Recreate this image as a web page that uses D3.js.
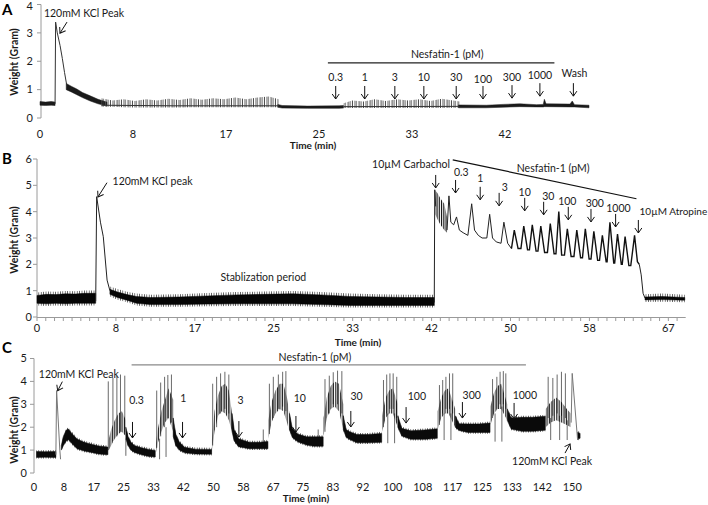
<!DOCTYPE html>
<html><head><meta charset="utf-8">
<script src="https://cdn.jsdelivr.net/npm/d3@7"></script>
<style>body{margin:0;background:#fff}svg{display:block}text{font-family:Lato,"Open Sans",sans-serif;fill:#1a1a1a}</style>
</head><body><svg id="c" width="708" height="505"></svg>
<script>
// x tick labels are placed every 500 s (8.333 min)
const labelStep = 25 / 3;

// ---------- Panel A ----------
const aTickLabels = ["0","8","17","25","33","42"];
const aYTicks = [0,1,2,3,4];
// [time, low, high] envelopes of the recorded trace
const aSolid = [
  [[0,0.45,0.58],[0.5,0.44,0.56],[1.0,0.45,0.58],[1.35,0.44,0.56]],
  [[2.35,1.0,1.22],[2.8,0.92,1.12],[3.3,0.82,1.02],[3.8,0.72,0.9],[4.5,0.6,0.78],[5.2,0.5,0.66],[6,0.42,0.56]],
  [[21.3,0.38,0.48],[21.7,0.35,0.44],[24,0.34,0.42],[26.8,0.34,0.43],[27.2,0.35,0.44]],
  [[37.5,0.36,0.46],[40,0.36,0.45],[41.5,0.38,0.48],[43,0.4,0.5],[44.5,0.39,0.47],[45.1,0.39,0.48],[45.2,0.4,0.66],[45.35,0.4,0.5],[47.5,0.39,0.49],[47.7,0.39,0.6],[47.9,0.39,0.47],[49.2,0.36,0.45]]
];
const aNoisy = [
  [[5.5,0.4,0.7],[6.5,0.4,0.62],[7.5,0.38,0.66],[8.5,0.37,0.6],[9.5,0.37,0.66],[10.5,0.37,0.62],[11.5,0.37,0.68],[12.5,0.37,0.63],[13.5,0.38,0.7],[14.5,0.38,0.64],[15.5,0.38,0.7],[16.5,0.38,0.66],[17.5,0.38,0.72],[18.5,0.38,0.66],[19.5,0.38,0.72],[20.5,0.38,0.76],[21.4,0.38,0.66]],
  [[27.2,0.35,0.52],[28,0.35,0.62],[29,0.35,0.58],[30,0.35,0.66],[31,0.35,0.6],[32,0.35,0.66],[33,0.35,0.62],[34,0.35,0.66],[35,0.35,0.6],[36,0.35,0.68],[37.6,0.36,0.58]]
];
const aLines = [
  [[1.35,0.5],[1.4,3.38],[1.55,3.0],[1.8,2.55],[2.0,2.1],[2.2,1.6],[2.4,1.15]],
  [[5.5,0.45],[12,0.43],[21.4,0.43]],
  [[27.2,0.4],[37.6,0.41]]
];
const aThick = [];
const aSpikes = [];
const aArrows = [
  {label:"0.3",t:26.5,tip:0.67,lt:26.5,lv:1.44},
  {label:"1",t:29.1,tip:0.67,lt:29.1,lv:1.44},
  {label:"3",t:31.8,tip:0.67,lt:31.8,lv:1.44},
  {label:"10",t:34.4,tip:0.67,lt:34.4,lv:1.42},
  {label:"30",t:37.3,tip:0.67,lt:37.3,lv:1.42},
  {label:"100",t:39.7,tip:0.67,lt:39.7,lv:1.38},
  {label:"300",t:42.3,tip:0.7,lt:42.3,lv:1.44},
  {label:"1000",t:44.8,tip:0.77,lt:44.8,lv:1.51},
  {label:"Wash",t:47.8,tip:0.77,lt:47.9,lv:1.57}
];
const aNotes = [
  {text:"120mM KCl Peak",t:3.94,v:3.7,from:[2.42,3.38],to:[1.79,2.99]},
  {text:"Nesfatin-1 (pM)",t:36.5,v:2.25}
];
const aBar = [[25.8,1.94],[46.1,1.94]];

// ---------- Panel B ----------
const bTickLabels = ["0","8","17","25","33","42","50","58","67"];
const bYTicks = [0,1,2,3,4,5,6];
const bSolid = [
  [[0,0.52,0.82],[1,0.5,0.86],[2,0.52,0.85],[3,0.5,0.88],[4,0.52,0.87],[5,0.52,0.9],[6.2,0.52,0.9]],
  [[7.7,0.86,1.05],[8.5,0.74,0.95],[9.5,0.64,0.85],[10.5,0.52,0.78],[12,0.47,0.74],[15,0.47,0.76],[18,0.49,0.8],[21,0.5,0.84],[24,0.5,0.86],[27,0.5,0.88],[30,0.47,0.84],[33,0.44,0.78],[36,0.44,0.76],[39,0.44,0.74],[41.95,0.44,0.74]],
  [[64.2,0.65,0.76],[66,0.66,0.78],[68.4,0.64,0.74]]
];
const bNoisy = [
  [[42.05,3.9,4.8],[42.3,3.7,4.7],[42.6,3.5,4.5],[43.0,3.3,4.3],[43.3,3.2,3.8]]
];
const bLines = [
  [[6.2,0.6],[6.3,4.57],[6.7,3.6],[7.0,3.05],[7.4,1.4],[7.7,1.0]],
  [[41.95,0.55],[42.0,4.83],[42.1,4.2]],
  [[43.3,3.3],[43.5,4.6],[43.7,3.6],[44.0,3.5],[44.3,3.8],[44.6,3.3],[45.0,3.2],[45.5,3.1],[45.9,4.3],[46.2,3.3],[46.6,3.1],[47.0,3.0],[47.5,3.0],[47.8,3.9],[48.1,3.0],[48.5,2.85],[49.0,2.8],[49.3,3.6],[49.7,2.8],[50.1,2.6]],
  [[63.6,2.0],[63.8,1.6],[64.0,0.9],[64.2,0.72]]
];
const bThick = [
  [[50.1,2.6],[50.4,3.3],[50.8,2.6],[51.1,2.6],[51.4,3.45],[51.8,2.55],[52.0,2.55],[52.3,3.5],[52.7,2.5],[52.9,2.5],[53.2,3.45],[53.6,2.45],[53.9,2.45],[54.2,3.55],[54.6,2.4],[54.8,2.4],[55.1,4.0],[55.4,2.35],[55.7,2.35],[56.0,3.35],[56.4,2.3],[56.7,2.3],[57.0,3.3],[57.4,2.25],[57.6,2.25],[57.9,3.35],[58.3,2.2],[58.5,2.2],[58.8,3.25],[59.2,2.15],[59.4,2.15],[59.7,3.1],[60.1,2.1],[60.2,2.1],[60.5,3.6],[60.9,2.05],[61.0,2.05],[61.3,3.15],[61.7,2.0],[61.8,2.0],[62.1,3.05],[62.5,1.95],[62.7,1.95],[63.1,3.1],[63.4,2.1],[63.6,2.0]]
];
const bSpikes = [];
const bArrows = [
  {label:"10µM Carbachol",t:42.1,tip:4.9,lt:39.5,lv:5.78},
  {label:"0.3",t:44.2,tip:4.71,lt:44.8,lv:5.48},
  {label:"1",t:46.8,tip:4.45,lt:46.8,lv:5.25},
  {label:"3",t:48.8,tip:4.22,lt:49.4,lv:4.94},
  {label:"10",t:51.5,tip:4.03,lt:51.5,lv:4.75},
  {label:"30",t:53.5,tip:3.88,lt:54.0,lv:4.6},
  {label:"100",t:56.1,tip:3.69,lt:56.0,lv:4.41},
  {label:"300",t:58.5,tip:3.61,lt:58.9,lv:4.33},
  {label:"1000",t:61.1,tip:3.42,lt:61.4,lv:4.14},
  {label:"10µM Atropine",t:63.5,tip:3.19,lt:67.2,lv:3.99}
];
const bNotes = [
  {text:"120mM KCl peak",t:12.2,v:5.17,from:[7.39,5.1],to:[6.44,4.56]},
  {text:"Stablization period",t:23.9,v:1.52},
  {text:"Nesfatin-1 (pM)",t:54.5,v:5.63}
];
const bBar = [[43.9,5.97],[63.3,4.49]];

// ---------- Panel C ----------
const cTickLabels = ["0","8","17","25","33","42","50","58","67","75","83","92","100","108","117","125","133","142","150"];
const cYTicks = [0,1,2,3,4,5];
const cSolid = [
  [[0.7,0.68,0.94],[3,0.69,0.93],[6.1,0.68,0.94]],
  [[7.6,1.0,1.2],[8.2,1.2,1.6],[9.0,1.4,1.88],[9.6,1.45,1.92],[10.5,1.3,1.74],[12,1.06,1.48],[14,0.96,1.34],[16,0.9,1.26],[18,0.83,1.18],[20.6,0.8,1.13]],
  [[25.6,1.5,2.0],[26.2,1.2,1.6],[27,1.0,1.35],[28,0.9,1.2],[30,0.8,1.1],[32,0.72,1.03],[33.8,0.7,0.98]],
  [[38.8,1.6,2.4],[39.5,1.2,1.7],[40.5,1.0,1.35],[42,0.88,1.12],[45,0.83,1.04],[49.5,0.82,1.03]],
  [[55.2,1.8,2.6],[55.8,1.4,1.9],[57,1.15,1.5],[60,1.06,1.34],[63,1.06,1.34],[65.2,1.06,1.38]],
  [[71.2,1.9,2.6],[72,1.55,1.95],[73.5,1.36,1.7],[76,1.22,1.58],[78,1.17,1.58],[80.6,1.17,1.58]],
  [[86.2,1.9,2.5],[87,1.56,1.9],[88,1.46,1.8],[90,1.32,1.68],[93,1.32,1.68],[96.9,1.34,1.73]],
  [[101.4,2.0,2.5],[102.5,1.62,1.95],[105,1.47,1.84],[109,1.47,1.88],[112.4,1.52,1.93]],
  [[117.4,2.0,2.5],[118.5,1.86,2.15],[121,1.77,2.14],[124,1.77,2.14],[127.1,1.77,2.18]],
  [[131.9,2.3,2.8],[133,1.92,2.4],[136,1.82,2.43],[139,1.82,2.43],[142.5,1.87,2.48]],
  [[151.5,1.47,1.78],[152.2,1.52,1.73]]
];
const cNoisy = [
  [[20.7,0.95,1.4],[21.5,1.2,1.9],[22.5,1.5,2.3],[23.5,1.7,2.6],[24.5,1.8,2.7],[25.6,1.6,2.3]],
  [[34.0,0.9,1.3],[34.5,1.3,1.9],[35.5,1.8,2.7],[36.5,2.2,3.2],[37.5,2.4,3.7],[38.8,1.8,3.2]],
  [[49.6,1.0,1.5],[50.3,1.8,2.7],[51.3,2.5,3.4],[52.3,2.7,3.8],[53.3,2.6,3.9],[54.3,2.3,3.6],[55.2,1.8,2.6]],
  [[65.3,1.5,2.3],[66.2,2.2,3.1],[67.3,2.6,3.6],[68.5,2.8,3.9],[69.5,2.7,3.9],[70.5,2.2,3.3],[71.2,1.8,2.6]],
  [[80.7,1.6,2.4],[81.6,2.4,3.3],[82.7,2.8,3.8],[83.8,2.9,4.0],[85,2.7,3.9],[86.2,1.9,3.0]],
  [[97,1.8,2.5],[98,2.4,3.3],[99,2.6,3.6],[100,2.6,3.7],[101.4,2.0,3.0]],
  [[112.5,1.9,2.7],[113.5,2.4,3.3],[114.5,2.6,3.6],[115.5,2.6,3.7],[117.4,2.0,2.8]],
  [[127.2,2.1,2.9],[128.2,2.6,3.5],[129.2,2.8,3.8],[130.2,2.8,3.9],[131.9,2.3,3.0]],
  [[142.6,2.0,2.8],[144,2.2,3.1],[145.5,2.3,3.3],[147,2.2,3.1],[148.5,2.1,2.8],[149.6,2.0,2.6]]
];
const cLines = [
  [[6.1,0.8],[6.3,3.6],[7.2,1.0],[7.4,0.6]],
  [[149.7,2.2],[150.0,4.35],[151.5,1.45],[151.7,1.5]]
];
const cThick = [];
// [time, base, peak] — vertical excursions of the bursts
const cSpikes = [
  [20.7,1.0,4.0],[22.0,1.4,4.15],[23.1,1.6,4.25],[24.1,1.8,4.3],[25.3,1.8,4.25],[25.6,1.5,0.75],
  [34.2,1.1,3.6],[35.3,1.6,3.95],[36.4,2.0,4.2],[37.3,2.4,4.28],[38.3,2.2,4.3],[35.0,1.5,0.6],[36.8,2.0,0.7],
  [49.8,1.2,3.9],[50.9,2.0,4.2],[52.0,2.6,4.35],[53.2,2.8,4.42],[54.3,2.6,4.3],[63.9,1.2,1.9],
  [65.6,1.7,3.9],[66.7,2.4,4.2],[68.1,2.8,4.3],[69.3,2.9,4.42],[70.2,2.7,4.45],[79.2,1.3,1.9],
  [81.1,1.8,4.1],[82.3,2.6,4.25],[83.4,3.0,4.4],[84.6,3.0,4.47],[85.8,2.6,4.45],
  [97.4,2.0,4.06],[98.3,2.6,4.3],[99.2,2.8,4.35],[100.1,2.8,4.35],[101.1,2.4,4.2],[98.6,2.6,1.3],[100.5,2.6,1.3],
  [113,2.1,3.84],[113.9,2.6,4.06],[114.8,2.8,4.2],[115.8,2.8,4.35],[116.7,2.6,4.35],[114.3,2.6,1.44],[116.2,2.6,1.44],
  [127.8,2.4,4.1],[129,2.8,4.2],[129.9,3.0,4.42],[130.8,3.0,4.45],[131.5,2.8,4.35],[128.5,2.6,1.37],[130.4,2.9,1.37],
  [143.3,2.4,4.2],[144.6,2.5,4.15],[145.8,2.6,4.3],[147,2.5,4.42],[148.1,2.4,4.35],[144,2.4,1.44],[146.5,2.5,1.44],[148.6,2.3,1.44]
];
const cArrows = [
  {label:"0.3",t:27.45,tip:1.53,lt:28.6,lv:3.19},
  {label:"1",t:41.4,tip:1.53,lt:41.6,lv:3.25},
  {label:"3",t:57.1,tip:1.57,lt:57.6,lv:3.16},
  {label:"10",t:73.0,tip:1.79,lt:74.1,lv:3.26},
  {label:"30",t:88.3,tip:2.01,lt:89.9,lv:3.33},
  {label:"100",t:103.7,tip:2.18,lt:106.7,lv:3.33},
  {label:"300",t:119.4,tip:2.4,lt:122.0,lv:3.41},
  {label:"1000",t:133.8,tip:2.36,lt:136.8,lv:3.41}
];
const cNotes = [
  {text:"120mM KCl Peak",t:12.5,v:4.31,from:[7.9,3.99],to:[6.6,3.59]},
  {text:"120mM KCl Peak",t:144.4,v:0.52,from:[148.0,0.87],to:[149.4,1.27]},
  {text:"Nesfatin-1 (pM)",t:78.3,v:5.04}
];
const cBar = [[27.2,4.72],[137.1,4.72]];

// ---------- drawing ----------
const svg = d3.select("#c");
const defs = svg.append("defs");
defs.append("marker").attr("id","ah").attr("viewBox","-6 -5 7 10")
  .attr("refX",0).attr("refY",0).attr("markerWidth",7).attr("markerHeight",10)
  .attr("markerUnits","userSpaceOnUse").attr("orient","auto")
  .append("path").attr("d","M-5,-3.5L0,0L-5,3.5").attr("fill","none").attr("stroke","#111").attr("stroke-width",1);
// texture patterns (style only)
function hatch(id, w, strokes){
  const p = defs.append("pattern").attr("id",id).attr("patternUnits","userSpaceOnUse").attr("width",w).attr("height",8);
  strokes.forEach(s=>p.append("line").attr("x1",s[0]).attr("x2",s[0]).attr("y1",0).attr("y2",8)
    .attr("stroke",s[2]).attr("stroke-width",s[1]));
}
hatch("hA",11,[[0.5,0.8,"#222"],[2.6,0.6,"#666"],[4.1,0.9,"#333"],[6.4,0.6,"#777"],[7.9,0.8,"#222"],[9.6,0.6,"#555"]]);
hatch("hB",1.8,[[0.45,0.9,"#000"]]);
hatch("hC",1.7,[[0.4,0.8,"#000"]]);
hatch("fr",2.4,[[0.35,0.7,"#111"]]);

function panel(o){
  const g = svg.append("g");
  const x = d3.scaleLinear().domain([0,o.xmax]).range([o.x0,o.x1]);
  const y = d3.scaleLinear().domain([0,o.ymax]).range([o.y0,o.ytop]);
  // y axis
  g.append("line").attr("x1",x(0)+o.axOff).attr("x2",x(0)+o.axOff).attr("y1",y(0)).attr("y2",y(o.ymax)).attr("stroke","#9a9a9a");
  g.selectAll(".yt").data(o.yTicks).join("line").attr("x1",x(0)+o.axOff-4).attr("x2",x(0)+o.axOff)
    .attr("y1",d=>y(d)).attr("y2",d=>y(d)).attr("stroke","#9a9a9a");
  g.selectAll(".yl").data(o.yTicks).join("text").attr("x",o.ylx).attr("y",d=>Math.max(y(d),6.5)).attr("dy","0.35em")
    .attr("text-anchor","end").attr("font-size",11).text(d=>d);
  // x axis
  if(o.xLine){
    g.append("line").attr("x1",x(0)+o.axOff).attr("x2",x(o.xmax)).attr("y1",y(0)+0.5).attr("y2",y(0)+0.5).attr("stroke","#9a9a9a");
    const minor = d3.range(0,o.xmax+0.001,labelStep/9);
    g.selectAll(".xt").data(minor).join("line").attr("x1",d=>x(d)).attr("x2",d=>x(d))
      .attr("y1",y(0)).attr("y2",y(0)+4).attr("stroke","#9a9a9a");
  }
  g.selectAll(".xl").data(o.tickLabels).join("text").attr("x",(d,i)=>x(i*labelStep)).attr("y",o.xly)
    .attr("dy","0.35em").attr("text-anchor","middle").attr("font-size",11).text(d=>d);
  g.append("text").attr("x",o.titleX).attr("y",o.titleY).attr("dy","0.35em").attr("text-anchor","middle")
    .attr("font-size",10).attr("font-weight","bold").text("Time (min)");
  g.append("text").attr("transform",`translate(${o.ytx},${o.yty}) rotate(-90)`).attr("dy","0.35em").attr("text-anchor","middle")
    .attr("font-size",10.5).attr("font-weight","bold").text("Weight (Gram)");
  g.append("text").attr("x",o.letterX).attr("y",o.letterY).attr("font-family","Liberation Sans, Arial").attr("font-size",15)
    .attr("font-weight","bold").style("fill","#000").text(o.letter);
  // trace
  const area = d3.area().x(d=>x(d[0])).y0(d=>y(d[1])).y1(d=>y(d[2]));
  const fringe = d3.area().x(d=>x(d[0])).y0(d=>y(d[1])+o.fr).y1(d=>y(d[2])-o.fr*1.3);
  const line = d3.line().x(d=>x(d[0])).y(d=>y(d[1]));
  g.selectAll(".sp").data(o.spikes).join("line").attr("x1",d=>x(d[0])).attr("x2",d=>x(d[0]))
    .attr("y1",d=>y(d[1])).attr("y2",d=>y(d[2])).attr("stroke","#6a6a6a").attr("stroke-width",1);
  if(o.fr>0) g.selectAll(".fr").data(o.solid).join("path").attr("d",fringe).attr("fill","url(#fr)");
  g.selectAll(".bd").data(o.solid).join("path").attr("d",area).attr("fill",o.bandFill)
    .attr("stroke",o.bandFill).attr("stroke-width",0.5);
  g.selectAll(".nz").data(o.noisy).join("path").attr("d",area).attr("fill",`url(#${o.hatch})`);
  g.selectAll(".ln").data(o.lines).join("path").attr("d",line).attr("fill","none")
    .attr("stroke",o.lineColor).attr("stroke-width",1);
  g.selectAll(".lt").data(o.thick).join("path").attr("d",line).attr("fill","none")
    .attr("stroke","#111").attr("stroke-width",1.4);
  // annotation bar
  g.append("path").attr("d",line(o.bar)).attr("stroke",o.barColor).attr("stroke-width",1.2).attr("fill","none");
  // arrows
  g.selectAll(".ar").data(o.arrows).join("line").attr("x1",d=>x(d.t)).attr("x2",d=>x(d.t))
    .attr("y1",d=>y(d.tip)-o.arLen).attr("y2",d=>y(d.tip)).attr("stroke","#111").attr("stroke-width",1)
    .attr("marker-end","url(#ah)");
  g.selectAll(".al").data(o.arrows).join("text").attr("x",d=>x(d.lt)).attr("y",d=>y(d.lv)).attr("dy","0.35em")
    .attr("text-anchor","middle").attr("font-size",d=>d.label.includes("Atropine")?10:10.5).text(d=>d.label);
  g.selectAll(".nt").data(o.notes).join("text").attr("x",d=>x(d.t)).attr("y",d=>y(d.v)).attr("dy","0.35em")
    .attr("text-anchor","middle").attr("font-size",10.5).text(d=>d.text);
  g.selectAll(".na").data(o.notes.filter(d=>d.from)).join("line")
    .attr("x1",d=>x(d.from[0])).attr("y1",d=>y(d.from[1])).attr("x2",d=>x(d.to[0])).attr("y2",d=>y(d.to[1]))
    .attr("stroke","#111").attr("stroke-width",1).attr("marker-end","url(#ah)");
}

panel({letter:"A",letterX:2,letterY:15,xmax:49.2,x0:40,x1:589,ymax:4,y0:118,ytop:4.5,axOff:1,yTicks:aYTicks,ylx:33,
  xLine:false,tickLabels:aTickLabels,xly:134,titleX:313,titleY:145,ytx:14,yty:62,
  solid:aSolid,noisy:aNoisy,lines:aLines,thick:aThick,spikes:aSpikes,bandFill:"#1a1a1a",hatch:"hA",fr:0,lineColor:"#333",bar:aBar,barColor:"#222",
  arrows:aArrows,arLen:13,notes:aNotes});
panel({letter:"B",letterX:2,letterY:164,xmax:68.5,x0:37,x1:685.7,ymax:6,y0:317,ytop:159,axOff:0,yTicks:bYTicks,ylx:32,
  xLine:true,tickLabels:bTickLabels,xly:328,titleX:358,titleY:342,ytx:14,yty:240,
  solid:bSolid,noisy:bNoisy,lines:bLines,thick:bThick,spikes:bSpikes,bandFill:"#050505",hatch:"hB",fr:2.2,lineColor:"#222",bar:bBar,barColor:"#111",
  arrows:bArrows,arLen:13,notes:bNotes});
panel({letter:"C",letterX:2,letterY:353,xmax:152.2,x0:34,x1:580.1,ymax:5,y0:473,ytop:358.5,axOff:0,yTicks:cYTicks,ylx:27,
  xLine:false,tickLabels:cTickLabels,xly:487,titleX:306,titleY:498,ytx:14,yty:430,
  solid:cSolid,noisy:cNoisy,lines:cLines,thick:cThick,spikes:cSpikes,bandFill:"#0a0a0a",hatch:"hC",fr:1.2,lineColor:"#777",bar:cBar,barColor:"#8a8a8a",
  arrows:cArrows,arLen:16,notes:cNotes});
</script></body></html>
